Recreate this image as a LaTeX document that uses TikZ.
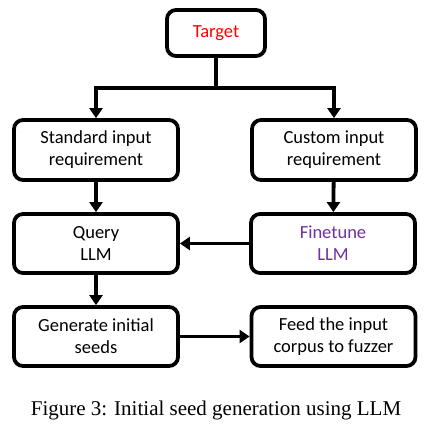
\documentclass[tikz,border=0pt]{standalone}
\usepackage{fontspec}
\setmainfont{Liberation Serif}
\newfontfamily\boxfont{Carlito}
\usetikzlibrary{arrows.meta}
\definecolor{tred}{RGB}{255,0,0}
\definecolor{tpurple}{RGB}{112,48,160}
\tikzset{
  stepbox/.style={draw=black, line width=3.8pt, rounded corners=9pt, fill=white,
    minimum width=164pt, minimum height=60pt, align=center, inner sep=0pt,
    font=\boxfont\fontsize{18.5}{22}\selectfont},
  arr/.style={line width=3.8pt, -{Triangle[length=10pt,width=13pt]}},
  ln/.style={line width=3.8pt}
}
\begin{document}
\begin{tikzpicture}[x=1pt,y=-1pt]
\useasboundingbox (0,0) rectangle (431,429);
\node[stepbox, minimum width=98pt, minimum height=46pt, text=tred] (t) at (216,33) {Target};
\node[stepbox] (std) at (96,150) {Standard input\\requirement};
\node[stepbox] (cus) at (334,150) {Custom input\\requirement};
\node[stepbox, minimum height=59pt] (q) at (96,243.5) {Query\\LLM};
\node[stepbox, minimum height=59pt, text=tpurple] (f) at (333,243.5) {Finetune\\LLM};
\node[stepbox, minimum height=59pt] (g) at (96,336.5) {Generate initial\\seeds};
\node[stepbox, minimum height=59pt] (fd) at (333.5,336.5) {Feed the input\\corpus to fuzzer};
\coordinate (j) at (216,88);
\draw[ln] (t.south) -- (j);
\draw[arr] (j) -| (std.north);
\draw[arr] (j) -| (cus.north);
\draw[arr] (std) -- (q);
\draw[arr] (cus) -- (f);
\draw[arr] (f) -- (q);
\draw[arr] (q) -- (g);
\draw[arr] (g) -- (fd);
\node[font=\fontsize{21}{24}\selectfont, inner sep=0pt] (cap) at (216,410) {Figure 3: Initial seed generation using LLM};
\end{tikzpicture}
\end{document}
